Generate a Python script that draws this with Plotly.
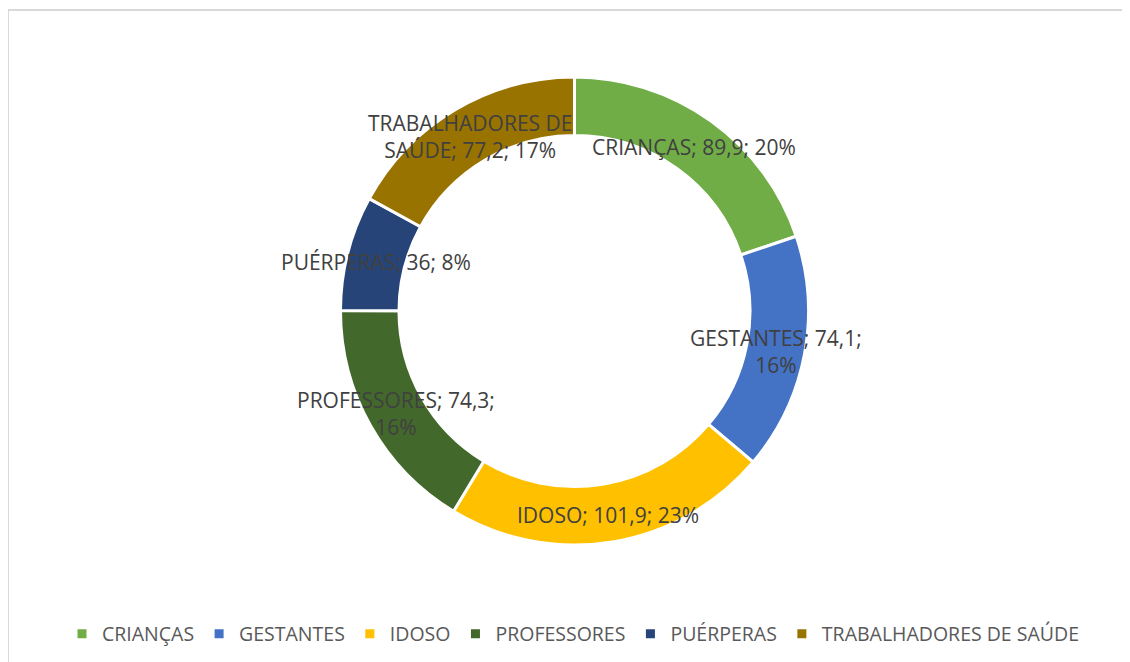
import math
import textwrap
import plotly.graph_objects as go

categories = ['CRIANÇAS', 'GESTANTES', 'IDOSO', 'PROFESSORES', 'PUÉRPERAS', 'TRABALHADORES DE SAÚDE']
values = [89.9, 74.1, 101.9, 74.3, 36, 77.2]
pct_labels = [20, 16, 23, 16, 8, 17]
colors = ['#70AD47', '#4472C4', '#FFC000', '#43682B', '#264478', '#997300']
wrap_widths = [0, 16, 0, 18, 0, 16]

W, H = 1130, 662
cx, cy, R = 566.5, 303, 234   # donut centre / outer radius in px (page has 8px body margin)
hole = 0.75

fig = go.Figure()
fig.add_trace(go.Pie(
    labels=categories, values=values,
    marker=dict(colors=colors, line=dict(color='white', width=3)),
    hole=hole, sort=False, direction='clockwise', rotation=0,
    textinfo='none', hoverinfo='label+value+percent',
    domain=dict(x=[(cx - R) / W, (cx + R) / W], y=[1 - (cy + R) / H, 1 - (cy - R) / H]),
))

# data labels on the ring, at the middle angle of each slice
total = sum(values)
r_mid = R * (1 + hole) / 2
cum = 0
for cat, v, p, ww in zip(categories, values, pct_labels, wrap_widths):
    mid = (cum + v / 2) / total * 2 * math.pi
    cum += v
    txt = f"{cat}; {str(v).replace('.', ',').removesuffix(',0')}; {p}%"
    if ww:
        txt = '<br>'.join(textwrap.wrap(txt, ww))
    px = cx + r_mid * math.sin(mid)
    py = cy - r_mid * math.cos(mid) + 2
    fig.add_annotation(x=px / W, y=1 - py / H, xref='paper', yref='paper',
                       text=txt, showarrow=False, xanchor='center', yanchor='middle',
                       font=dict(family='Open Sans', size=21, color='#404040'))

fig.add_shape(type='rect', xref='paper', yref='paper',
              x0=0, y0=-0.05, x1=1.05, y1=1 - 2 / H,
              line=dict(color='#D9D9D9', width=2))

fig.update_layout(
    width=W, height=H,
    margin=dict(l=0, r=0, t=0, b=0),
    paper_bgcolor='white',
    showlegend=True,
    legend=dict(orientation='h', x=0.5, xanchor='center', y=1 - 626 / H, yanchor='middle',
                font=dict(family='Open Sans', size=19.5, color='#595959'),
                itemwidth=30, tracegroupgap=0),
)

fig.write_html("out.html")
